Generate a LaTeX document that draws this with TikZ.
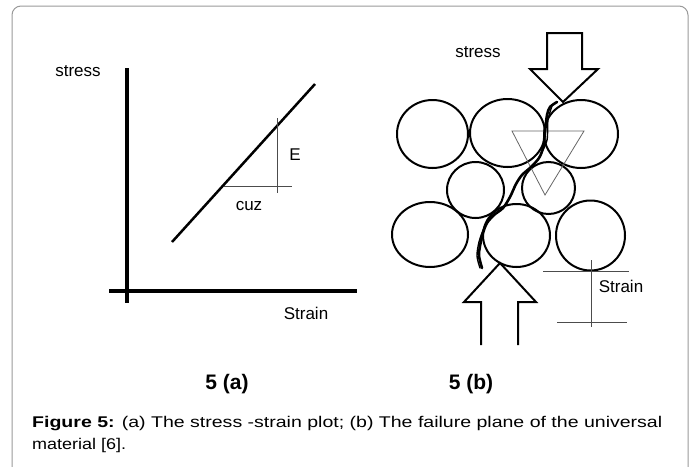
\documentclass[tikz,border=0pt]{standalone}
\usepackage{fontspec}
\setmainfont{Liberation Sans}
\begin{document}
\begin{tikzpicture}[x=1pt,y=-1pt,
  lbl/.style={font=\fontsize{17}{20}\selectfont, inner sep=0pt},
  sublbl/.style={font=\fontsize{21}{25}\selectfont\bfseries, inner sep=0pt},
  captext/.style={font=\fontsize{15.5}{19}\selectfont, inner sep=0pt, anchor=base west},
  grain/.style={draw=black, line width=2pt},
  thinline/.style={draw=black!70, line width=0.9pt},
  bigarrow/.style={draw=black, line width=2pt, line join=miter},
  axis/.style={line width=4pt},
]
\useasboundingbox (0,0) rectangle (696,466);
\clip (0,0) rectangle (696,466);
\draw[black!40, line width=1pt, rounded corners=9pt] (12,6) rectangle (688,482);

% ---- panel (a)
\coordinate (ytop) at (127,68);
\coordinate (ybot) at (127,303);
\coordinate (xleft) at (109,291);
\coordinate (xright) at (357,291);
\draw[axis] (ytop) -- (ybot);
\draw[axis] (xleft) -- (xright);
\coordinate (dlow) at (172,242);
\coordinate (dhigh) at (315,84);
\draw[line width=2.5pt] (dlow) -- (dhigh);
\coordinate (h1) at (224,186);
\coordinate (h2) at (292,186);
\coordinate (v1) at (277,118);
\coordinate (v2) at (277,193);
\draw[thinline] (h1) -- (h2);
\draw[thinline] (v1) -- (v2);
\node[lbl] (stressA) at (78,71) {stress};
\node[lbl] (E) at (295,155) {E};
\node[lbl] (cuz) at (249,206) {cuz};
\node[lbl] (strainA) at (306,313) {Strain};

% ---- panel (b)
\draw[grain] (432.5,134) ellipse [x radius=35.5pt, y radius=34pt];
\draw[grain] (507.5,133) ellipse [x radius=37.5pt, y radius=34pt];
\draw[grain] (581,134) ellipse [x radius=37pt, y radius=34pt];
\draw[grain] (475.5,190) ellipse [x radius=28.5pt, y radius=28pt];
\draw[grain] (548.5,188) ellipse [x radius=26.5pt, y radius=26pt];
\draw[grain] (430,234.5) ellipse [x radius=38pt, y radius=32.5pt];
\draw[grain] (516.5,235.5) ellipse [x radius=33.5pt, y radius=31.5pt];
\draw[grain] (590.5,235.5) ellipse [x radius=34.5pt, y radius=35pt];

\draw[draw=black!60, line width=0.8pt] (512,131) -- (584,131) -- (545,195) -- cycle;

% crack
\draw[line width=2.6pt, line cap=round, line join=round]
  plot[smooth] coordinates {(557,102) (550,107) (547,115) (545,132) (543,148) (539,158) (531,167) (522,175) (516,184) (510,197) (503,208) (494,215) (487,223) (483,233) (480,246) (479,256) (482,268)};
\draw[line width=1.4pt, line cap=round, line join=round]
  plot[smooth] coordinates {(552,106) (548,120) (547,140) (541,154)};
\draw[line width=1.4pt, line cap=round, line join=round]
  plot[smooth] coordinates {(490,219) (484,228) (479,242) (477,256) (480,268)};

% arrows
\draw[bigarrow] (547,33) -- (582,33) -- (582,69) -- (598,69) -- (563,102) -- (530,69) -- (547,69) -- cycle;
\draw[bigarrow] (481,345) -- (481,302) -- (464,302) -- (500,263) -- (536,302) -- (518,302) -- (518,345);
\node[lbl] (stressB) at (478,52) {stress};

% strain marker
\coordinate (s1) at (543,271);
\coordinate (s2) at (629,271);
\coordinate (s3) at (557,322);
\coordinate (s4) at (627,322);
\coordinate (s5) at (591,260);
\coordinate (s6) at (591,327);
\draw[thinline] (s1) -- (s2);
\draw[thinline] (s3) -- (s4);
\draw[thinline] (s5) -- (s6);
\node[lbl] (strainB) at (621,286) {Strain};

% sub labels
\node[sublbl] (suba) at (227,384) {5 (a)};
\node[sublbl] (subb) at (471,384) {5 (b)};

% caption
\node[captext] (cap1) at (32,427) {\resizebox{630pt}{\height}{\textbf{Figure 5:} (a) The stress -strain plot; (b) The failure plane of the universal}};
\node[captext] (cap2) at (32,449) {\scalebox{1.16}[1]{material [6].}};
\end{tikzpicture}
\end{document}
